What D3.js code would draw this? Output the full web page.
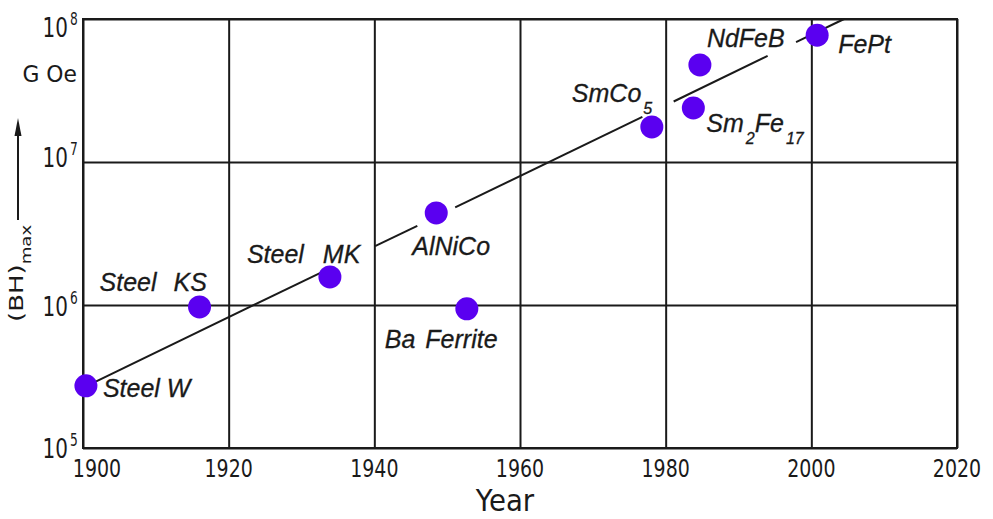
<!DOCTYPE html>
<html>
<head>
<meta charset="utf-8">
<script src="https://cdn.jsdelivr.net/npm/d3@7"></script>
<style>
  html, body { margin: 0; padding: 0; background: #fff; }
  svg { display: block; }
</style>
</head>
<body>
<svg id="chart" width="993" height="519"></svg>
<script>
// ---------- data ----------
const xTicks = [1900, 1920, 1940, 1960, 1980, 2000, 2020];
const yTickExps = [5, 6, 7, 8];
const yUnit = "G Oe";
const xTitle = "Year";
const yTitleMain = "(BH)";
const yTitleSub = "max";

const materials = ["Steel W", "Steel KS", "Steel MK", "AlNiCo", "Ba Ferrite", "SmCo_5", "NdFeB", "Sm_2Fe_17", "FePt"];
const years     = [1900.4, 1916.0, 1933.9, 1948.5, 1952.7, 1978.1, 1984.7, 1983.8, 2000.8];
const bhMax     = [2.72e5, 9.7e5, 1.57e6, 4.4e6, 9.4e5, 1.76e7, 4.77e7, 2.39e7, 7.7e7];

// trend line, drawn as separate segments (gaps around labels / dots)
const trendSegYears  = [[1900.4, 1932.6], [1940.1, 1945.9], [1951.1, 1976.8], [1981.1, 1994.0], [1997.9, 2004.5]];
const trendSegValues = [[2.7e5, 1.68e6], [2.58e6, 3.58e6], [4.81e6, 2.07e7], [2.65e7, 5.52e7], [6.89e7, 1.0e8]];

// ---------- layout ----------
const labelLayout = [
  { dx: 17,   dy: 11,  ws: 0 },
  { dx: -100, dy: -16, ws: 10 },
  { dx: -83,  dy: -14, ws: 12 },
  { dx: -24,  dy: 42,  ws: 0 },
  { dx: -82,  dy: 39,  ws: 3 },
  { dx: -80,  dy: -25, ws: 0 },
  { dx: 7,    dy: -18, ws: 0 },
  { dx: 13,   dy: 24,  ws: 0 },
  { dx: 21,   dy: 18,  ws: 0 }
];
const yTickDy = [10, 11, 5, 18];   // baseline offsets of "10^n" labels below their grid line

const INK = "#1a1a1a";
const DOT = "#5a00f0";

const svg = d3.select("#chart");
const mLeft = 83, mRight = 957, mTop = 19, mBottom = 448;

const x = d3.scaleLinear().domain([1900, 2020]).range([mLeft, mRight]);
const y = d3.scaleLog().domain([1e5, 1e8]).range([mBottom, mTop]);

// ---------- grid via axes ----------
const gx = svg.append("g")
  .attr("transform", `translate(0,${mBottom})`)
  .call(d3.axisBottom(x).tickValues(xTicks).tickSize(-(mBottom - mTop)).tickFormat(""));
const gy = svg.append("g")
  .attr("transform", `translate(${mLeft},0)`)
  .call(d3.axisLeft(y).tickValues(yTickExps.map(e => Math.pow(10, e))).tickSize(-(mRight - mLeft)).tickFormat(""));
[gx, gy].forEach(g => {
  g.select(".domain").remove();
  g.selectAll(".tick line").attr("stroke", INK).attr("stroke-width", 2);
});
svg.append("rect")
  .attr("x", mLeft).attr("y", mTop)
  .attr("width", mRight - mLeft).attr("height", mBottom - mTop)
  .attr("fill", "none").attr("stroke", INK).attr("stroke-width", 2);

// ---------- tick labels ----------
const tickFont = "'DejaVu Sans', 'Liberation Sans', sans-serif";
svg.append("g").selectAll("text").data(xTicks).join("text")
  .attr("transform", (d, i) => `translate(${x(d) + (i === 0 ? 14 : 0)},477) scale(0.76,1)`)
  .attr("text-anchor", "middle")
  .attr("font-family", tickFont).attr("font-size", 25).attr("fill", INK)
  .text(d => d);

const yl = svg.append("g");
yTickExps.forEach((e, i) => {
  const yy = y(Math.pow(10, e)) + yTickDy[i];
  yl.append("text")
    .attr("transform", `translate(68,${yy}) scale(0.74,1)`)
    .attr("text-anchor", "end")
    .attr("font-family", tickFont).attr("font-size", 27).attr("fill", INK)
    .text("10");
  yl.append("text")
    .attr("transform", `translate(70,${yy - 12}) scale(0.72,1)`)
    .attr("font-family", tickFont).attr("font-size", 17).attr("fill", INK)
    .text(e);
});

// unit
svg.append("text")
  .attr("transform", "translate(77,82) scale(0.95,1)")
  .attr("text-anchor", "end")
  .attr("font-family", tickFont).attr("font-size", 23).attr("fill", INK)
  .text(yUnit);

// x title
svg.append("text")
  .attr("transform", "translate(505,511) scale(0.92,1)")
  .attr("text-anchor", "middle")
  .attr("font-family", tickFont).attr("font-size", 30).attr("fill", INK)
  .text(xTitle);

// y title (rotated) + arrow
const yt = svg.append("text")
  .attr("transform", "translate(23,322) rotate(-90) scale(1.3,1)")
  .attr("font-family", tickFont).attr("font-size", 20).attr("fill", INK);
yt.append("tspan").text(yTitleMain);
yt.append("tspan").attr("font-size", 14).attr("dy", 8).text(yTitleSub);

svg.append("line")
  .attr("x1", 18).attr("x2", 18).attr("y1", 220).attr("y2", 132)
  .attr("stroke", INK).attr("stroke-width", 2);
svg.append("path")
  .attr("d", "M18,118 L14.5,136 L21.5,136 Z")
  .attr("fill", INK);

// ---------- trend line ----------
const line = d3.line().x(d => x(d[0])).y(d => y(d[1]));
svg.append("g").selectAll("path")
  .data(trendSegYears.map((ys, i) => ys.map((yr, j) => [yr, trendSegValues[i][j]])))
  .join("path")
  .attr("d", line)
  .attr("fill", "none").attr("stroke", INK).attr("stroke-width", 2);

// ---------- dots ----------
svg.append("g").selectAll("circle").data(years).join("circle")
  .attr("cx", d => x(d))
  .attr("cy", (d, i) => y(bhMax[i]))
  .attr("r", 11.5)
  .attr("fill", DOT);

// ---------- labels ----------
const lblFont = "'Liberation Sans', Arial, Helvetica, sans-serif";
materials.forEach((name, i) => {
  const L = labelLayout[i];
  const t = svg.append("text")
    .attr("x", x(years[i]) + L.dx)
    .attr("y", y(bhMax[i]) + L.dy)
    .attr("font-family", lblFont).attr("font-style", "italic")
    .attr("font-size", 25).attr("fill", INK)
    .attr("stroke", INK).attr("stroke-width", 0.3)
    .attr("word-spacing", L.ws);
  const parts = name.split(/_(\d+)/);
  let shifted = false;
  parts.forEach((p, k) => {
    if (p === "") return;
    const ts = t.append("tspan").text(p);
    if (k % 2 === 1) {
      ts.attr("font-size", 16).attr("dy", 12).attr("dx", 2);
      shifted = true;
    } else if (shifted) {
      ts.attr("dy", -12);
      shifted = false;
    }
  });
});
</script>
</body>
</html>
